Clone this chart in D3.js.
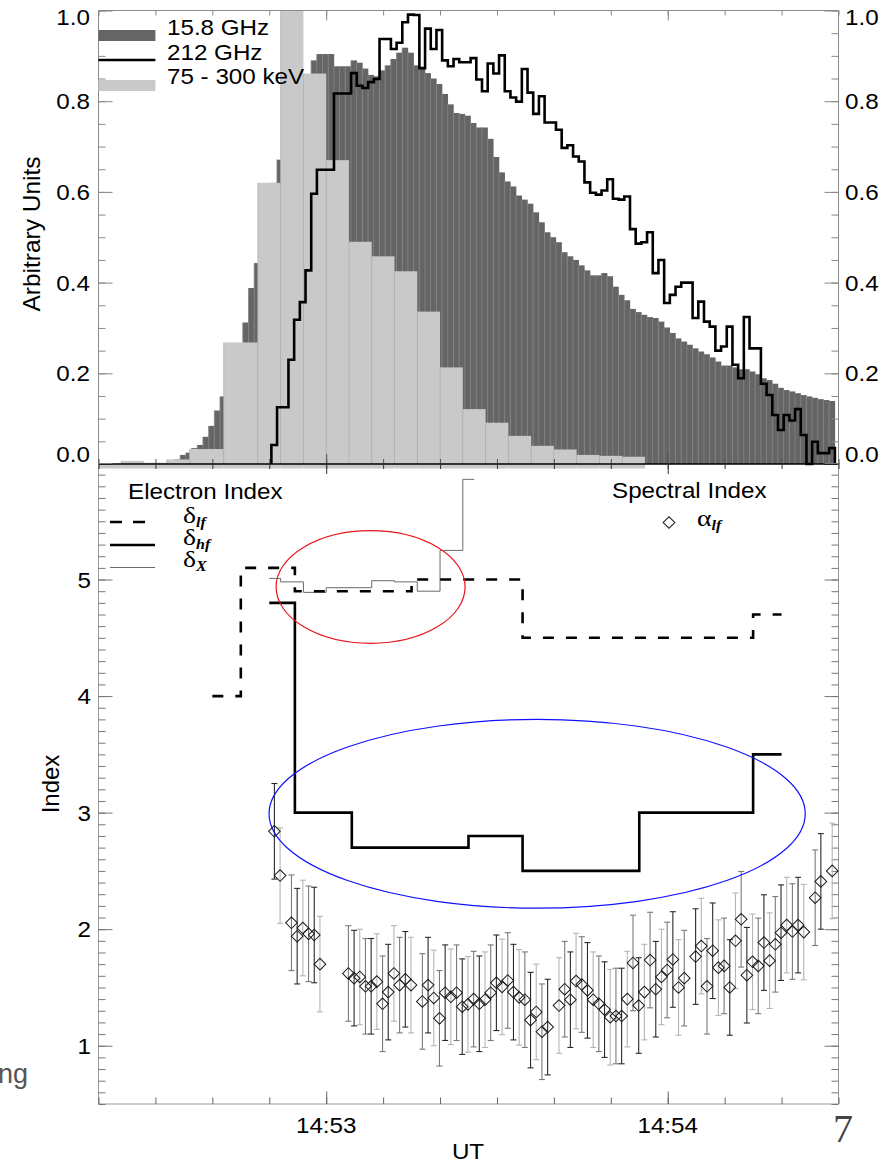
<!DOCTYPE html>
<html>
<head>
<meta charset="utf-8">
<script src="https://cdn.jsdelivr.net/npm/d3@7"></script>
<style>
  body { margin: 0; background: #fff; }
  svg { display: block; }
  text { font-family: "Liberation Sans", Arial, Helvetica, sans-serif; fill: #000; }
  .serif { font-family: "Liberation Serif", "Times New Roman", serif; }
</style>
</head>
<body>
<svg id="chart" width="895" height="1162"></svg>
<script>
// ---- data (time in seconds from 14:53:00 UT) ----

// 15.8 GHz, 1 s bins, first bin starts at darkStart
var darkStart = -27.65;
var darkValues = [0.005,0.01,0.02,0.025,0.035,0.042,0.06,0.084,0.118,0.149,
  0.18,0.21,0.25,0.312,0.388,0.443,0.50,0.56,0.62,0.671,
  0.72,0.77,0.81,0.84,0.86,0.89,0.904,0.904,0.904,0.877,
  0.877,0.877,0.89,0.885,0.872,0.858,0.855,0.868,0.879,0.893,
  0.907,0.918,0.907,0.879,0.873,0.862,0.85,0.838,0.816,0.793,
  0.774,0.772,0.768,0.752,0.742,0.742,0.717,0.677,0.643,0.623,
  0.612,0.592,0.583,0.574,0.555,0.533,0.511,0.50,0.489,0.467,
  0.458,0.450,0.438,0.427,0.416,0.416,0.421,0.414,0.391,0.373,
  0.361,0.342,0.335,0.329,0.324,0.322,0.314,0.301,0.289,0.277,
  0.270,0.263,0.255,0.248,0.242,0.235,0.226,0.217,0.217,0.213,
  0.209,0.209,0.204,0.198,0.189,0.185,0.177,0.168,0.163,0.160,
  0.156,0.152,0.149,0.146,0.143,0.141,0.139];

// 212 GHz, 1 s bins
var mmStart = -9.63;
var mmValues = [0.042,0.125,0.125,0.23,0.318,0.357,0.427,0.596,0.649,0.649,
  0.649,0.817,0.817,0.817,0.862,0.834,0.829,0.842,0.849,0.937,
  0.937,0.915,0.929,0.974,0.991,0.99,0.873,0.96,0.915,0.957,
  0.89,0.877,0.893,0.886,0.886,0.895,0.848,0.822,0.883,0.861,
  0.901,0.822,0.808,0.799,0.871,0.819,0.772,0.811,0.753,0.753,
  0.737,0.697,0.703,0.678,0.667,0.621,0.598,0.594,0.603,0.628,
  0.585,0.583,0.59,0.518,0.486,0.489,0.511,0.421,0.45,0.355,
  0.373,0.391,0.40,0.40,0.322,0.358,0.314,0.303,0.25,0.259,
  0.303,0.219,0.189,0.324,0.255,0.255,0.177,0.152,0.108,0.075,
  0.108,0.096,0.121,0.064,0,0.049,0.024,0.024,0.035];

// 75 - 300 keV, variable bins
var keVEdges = [-44,-40,-36,-32,-28,-24,-18,-12,-8,-4,0,4,8,12,16,20,24,28,32,36,40,44,48,52,56];
var keVValues = [0,0,0.007,0.003,0.01,0.033,0.268,0.62,1.2,0.861,0.67,0.49,0.458,0.425,0.336,0.213,0.121,0.091,0.062,0.04,0.032,0.02,0.018,0.016];

// electron indices
var lfEdges = [-20,-15,-5.5,15,34.5,75,80];
var lfValues = [4.0,5.1,4.9,5.0,4.5,4.7];
var hfEdges = [-10,-5.5,4.5,25,34.5,55,75,80];
var hfValues = [4.8,3.0,2.7,2.8,2.5,3.0,3.5];
var dxEdges = [-10,-8,-4,0,4,8,12,16,20,24,26];
var dxValues = [5.01,4.98,4.89,4.93,4.93,4.99,4.98,4.9,5.25,5.86];

// spectral index alpha_lf, 1 s samples
var alphaPhase = -0.1;
var alphaSec = [-9,-8,-6,-5,-4,-3,-2,-1,4,5,6,7,8,9,10,11,12,13,14,15,17,18,19,20,21,22,23,24,25,26,27,28,29,30,
  31,32,33,34,35,36,37,38,39,41,42,43,44,45,46,47,48,49,50,51,52,53,54,55,56,57,58,59,60,61,62,63,
  65,66,67,68,69,70,71,72,73,74,75,76,77,78,79,80,81,82,83,84,86,87,89];
var alphaValues = [2.84,2.46,2.055,1.94,2.01,1.96,1.95,1.70,1.62,1.58,1.59,1.51,1.51,1.55,1.36,1.46,1.62,1.52,1.57,1.52,
  1.38,1.52,1.41,1.235,1.455,1.42,1.455,1.335,1.355,1.40,1.36,1.395,1.455,1.54,
  1.505,1.56,1.46,1.415,1.395,1.22,1.29,1.12,1.16,1.345,1.485,1.395,1.555,1.525,1.475,1.395,1.36,1.31,1.245,1.255,1.255,1.40,
  1.71,1.345,1.46,1.735,1.485,1.59,1.65,1.74,1.50,1.58,
  1.765,1.855,1.51,1.815,1.67,1.685,1.50,1.90,2.085,1.605,1.72,1.685,1.885,1.73,1.87,1.97,2.035,1.98,2.035,1.975,2.27,2.41,2.50];
var alphaErr = 0.41;

// annotation ellipses [centre time, centre index, half width s, half height]
var redEllipse = [7.8, 4.936, 16.6, 0.483];
var blueEllipse = [37.06, 2.99, 47.1, 0.81];

var timeLabels = [[0, "14:53"], [60, "14:54"]];
var topLabels = [0, 0.2, 0.4, 0.6, 0.8, 1.0];
var botLabels = [1, 2, 3, 4, 5];

// ---- scales ----
var svg = d3.select("#chart");
var x = d3.scaleLinear().domain([-40, 90]).range([98.5, 838.5]);
var yTop = d3.scaleLinear().domain([0, 1]).range([464, 10.5]);
var yBot = d3.scaleLinear().domain([0.5, 6]).range([1104, 463]);

function label(g, px, py, s, anchor, size) {
  return g.append("text")
    .attr("transform", "translate(" + px + "," + py + ") scale(1.1,1)")
    .attr("text-anchor", anchor)
    .style("font-size", size + "px")
    .text(s);
}

function xTicks(g, ypos, dir, minorLen, majorLen, col) {
  var minor = d3.range(-40, 91, 10);
  g.append("g").attr("transform", "translate(0," + ypos + ")")
    .call(d3.axisBottom(x).tickValues(minor).tickSize(dir * minorLen).tickFormat(""))
    .call(function (a) { a.select(".domain").remove(); a.selectAll("line").attr("stroke", col); });
  g.append("g").attr("transform", "translate(0," + ypos + ")")
    .call(d3.axisBottom(x).tickValues([0, 60]).tickSize(dir * majorLen).tickFormat(""))
    .call(function (a) { a.select(".domain").remove(); a.selectAll("line").attr("stroke", col); });
}

function yTicks(g, scale, xpos, dir, minor, major, minorLen, majorLen, col) {
  g.append("g").attr("transform", "translate(" + xpos + ",0)")
    .call(d3.axisLeft(scale).tickValues(minor).tickSize(dir * minorLen).tickFormat(""))
    .call(function (a) { a.select(".domain").remove(); a.selectAll("line").attr("stroke", col); });
  g.append("g").attr("transform", "translate(" + xpos + ",0)")
    .call(d3.axisLeft(scale).tickValues(major).tickSize(dir * majorLen).tickFormat(""))
    .call(function (a) { a.select(".domain").remove(); a.selectAll("line").attr("stroke", col); });
}

// ================= TOP PANEL =================
svg.append("defs").append("clipPath").attr("id", "topclip")
  .append("rect").attr("x", x(-40)).attr("y", yTop(1))
  .attr("width", x(90) - x(-40)).attr("height", yTop(0) - yTop(1) + 6);

var gTop = svg.append("g");
var bars = gTop.append("g").attr("clip-path", "url(#topclip)");

var dark = darkValues.map(function (v, i) { return { t0: darkStart + i, t1: darkStart + i + 1, v: v }; });
bars.selectAll("rect.dark").data(dark).join("rect").attr("class", "dark")
  .attr("x", function (d) { return x(d.t0); })
  .attr("width", function (d) { return x(d.t1) - x(d.t0) + 0.3; })
  .attr("y", function (d) { return yTop(d.v); })
  .attr("height", function (d) { return yTop(0) - yTop(d.v); })
  .attr("fill", "#656565");
bars.selectAll("line.darksep").data(dark.slice(1)).join("line").attr("class", "darksep")
  .attr("x1", function (d) { return x(d.t0); }).attr("x2", function (d) { return x(d.t0); })
  .attr("y1", yTop(0)).attr("y2", function (d) { return yTop(d.v); })
  .attr("stroke", "#858585").attr("stroke-width", 0.8);

var light = keVValues.map(function (v, i) { return { t0: keVEdges[i], t1: keVEdges[i + 1], v: v }; });
bars.selectAll("rect.light").data(light).join("rect").attr("class", "light")
  .attr("x", function (d) { return x(d.t0); })
  .attr("width", function (d) { return x(d.t1) - x(d.t0); })
  .attr("y", function (d) { return yTop(d.v); })
  .attr("height", function (d) { return yTop(0) - yTop(d.v) + 4.5; })
  .attr("fill", "#c9c9c9");
bars.selectAll("line.lightsep").data(light.slice(1)).join("line").attr("class", "lightsep")
  .attr("x1", function (d) { return x(d.t0); }).attr("x2", function (d) { return x(d.t0); })
  .attr("y1", yTop(0)).attr("y2", function (d) { return yTop(d.v); })
  .attr("stroke", "#b3b3b3").attr("stroke-width", 0.8);

// frame and ticks
gTop.append("path")
  .attr("d", "M" + x(-40) + "," + yTop(0) + "V" + yTop(1) + "H" + x(90) + "V" + yTop(0))
  .attr("fill", "none").attr("stroke", "#8a8a8a").attr("stroke-width", 1);
xTicks(gTop, yTop(0), -1, 5, 10, "#555");
xTicks(gTop, yTop(1), 1, 5, 10, "#888");
yTicks(gTop, yTop, x(-40), -1, d3.range(0, 1.001, 0.05), topLabels, 7, 14, "#888");
yTicks(gTop, yTop, x(90), 1, d3.range(0, 1.001, 0.05), topLabels, 7, 14, "#888");

// 212 GHz line
var mmPts = [[mmStart, 0]];
mmValues.forEach(function (v, i) { mmPts.push([mmStart + i, v]); });
var mmEnd = mmStart + mmValues.length;
mmPts.push([mmEnd, mmValues[mmValues.length - 1]]);
mmPts.push([mmEnd, 0]);
gTop.append("path")
  .attr("d", d3.line().x(function (d) { return x(d[0]); }).y(function (d) { return yTop(d[1]); }).curve(d3.curveStepAfter)(mmPts))
  .attr("fill", "none").attr("stroke", "#000").attr("stroke-width", 2.6).attr("stroke-linejoin", "miter");

gTop.append("line").attr("x1", x(-40)).attr("x2", x(90)).attr("y1", yTop(0)).attr("y2", yTop(0))
  .attr("stroke", "#000").attr("stroke-width", 1.4);

// tick labels
topLabels.forEach(function (v) {
  var py = Math.max(17, Math.min(454, yTop(v))) + 8;
  label(gTop, 90, py, v.toFixed(1), "end", 22);
  label(gTop, 845, py, v.toFixed(1), "start", 22);
});
gTop.append("text").attr("transform", "translate(40,234) rotate(-90)")
  .attr("text-anchor", "middle").style("font-size", "24.5px").text("Arbitrary Units");

// legend
gTop.append("rect").attr("x", x(-40)).attr("y", 30).attr("width", x(-30) - x(-40)).attr("height", 11).attr("fill", "#656565");
gTop.append("line").attr("x1", x(-40)).attr("x2", x(-30)).attr("y1", 60).attr("y2", 60).attr("stroke", "#000").attr("stroke-width", 2.6);
gTop.append("rect").attr("x", x(-40)).attr("y", 80).attr("width", x(-30) - x(-40)).attr("height", 11).attr("fill", "#c9c9c9");
label(gTop, 167, 35, "15.8 GHz", "start", 22);
label(gTop, 167, 60, "212 GHz", "start", 22);
label(gTop, 167, 84, "75 - 300 keV", "start", 22);

// ================= BOTTOM PANEL =================
var gBot = svg.append("g");

gBot.append("path")
  .attr("d", "M" + x(-40) + "," + yBot(6) + "V" + yBot(0.5) + "H" + x(90) + "V" + yBot(6))
  .attr("fill", "none").attr("stroke", "#999").attr("stroke-width", 1);
xTicks(gBot, yBot(0.5), -1, 6.5, 12.5, "#666");
xTicks(gBot, yBot(6), 1, 6, 11, "#333");
yTicks(gBot, yBot, x(-40), -1, d3.range(0.5, 6.001, 0.1), [1, 2, 3, 4, 5, 6], 7, 14, "#777");
yTicks(gBot, yBot, x(90), 1, d3.range(0.5, 6.001, 0.1), [1, 2, 3, 4, 5, 6], 7, 14, "#777");

botLabels.forEach(function (v) { label(gBot, 91, yBot(v) + 8, String(v), "end", 22); });
timeLabels.forEach(function (d) { label(gBot, x(d[0]), 1133, d[1], "middle", 22); });
label(gBot, 468, 1158.5, "UT", "middle", 22);
gBot.append("text").attr("transform", "translate(59,784) rotate(-90)")
  .attr("text-anchor", "middle").style("font-size", "24px").text("Index");

// error bars + diamonds
var alpha = alphaSec.map(function (s, i) { return { t: s + alphaPhase, v: alphaValues[i], i: i }; });
var barShades = ["#2a2a2a", "#b5b5b5", "#7a7a7a"];
var eb = gBot.append("g").selectAll("g").data(alpha).join("g")
  .attr("stroke", function (d) { return barShades[d.i % 3]; }).attr("stroke-width", 1.1);
eb.append("line")
  .attr("x1", function (d) { return x(d.t); }).attr("x2", function (d) { return x(d.t); })
  .attr("y1", function (d) { return yBot(d.v + alphaErr); }).attr("y2", function (d) { return yBot(d.v - alphaErr); });
eb.append("line")
  .attr("x1", function (d) { return x(d.t) - 3; }).attr("x2", function (d) { return x(d.t) + 3; })
  .attr("y1", function (d) { return yBot(d.v + alphaErr); }).attr("y2", function (d) { return yBot(d.v + alphaErr); });
eb.append("line")
  .attr("x1", function (d) { return x(d.t) - 3; }).attr("x2", function (d) { return x(d.t) + 3; })
  .attr("y1", function (d) { return yBot(d.v - alphaErr); }).attr("y2", function (d) { return yBot(d.v - alphaErr); });

var diamond = d3.symbol(d3.symbolSquare, 68);
gBot.append("g").selectAll("path").data(alpha).join("path")
  .attr("d", diamond)
  .attr("transform", function (d) { return "translate(" + x(d.t) + "," + yBot(d.v) + ") rotate(45)"; })
  .attr("fill", "none").attr("stroke", "#1a1a1a").attr("stroke-width", 1);

// electron index step lines
function stepPts(edges, vals) {
  var p = vals.map(function (v, i) { return [edges[i], v]; });
  p.push([edges[edges.length - 1], vals[vals.length - 1]]);
  return p;
}
var stepLine = d3.line().x(function (d) { return x(d[0]); }).y(function (d) { return yBot(d[1]); }).curve(d3.curveStepAfter);
gBot.append("path").attr("d", stepLine(stepPts(dxEdges, dxValues)))
  .attr("fill", "none").attr("stroke", "#6a6a6a").attr("stroke-width", 1);
gBot.append("path").attr("d", stepLine(stepPts(lfEdges, lfValues)))
  .attr("fill", "none").attr("stroke", "#000").attr("stroke-width", 2.6).attr("stroke-dasharray", "11,12");
gBot.append("path").attr("d", stepLine(stepPts(hfEdges, hfValues)))
  .attr("fill", "none").attr("stroke", "#000").attr("stroke-width", 2.6);

// annotation ellipses
function ellipse(e, col) {
  gBot.append("ellipse")
    .attr("cx", x(e[0])).attr("cy", yBot(e[1]))
    .attr("rx", x(e[0] + e[2]) - x(e[0])).attr("ry", yBot(e[1] - e[3]) - yBot(e[1]))
    .attr("fill", "none").attr("stroke", col).attr("stroke-width", 1.2);
}
ellipse(redEllipse, "#e8141c");
ellipse(blueEllipse, "#1010ff");

// legends
label(gBot, 128, 499, "Electron Index", "start", 22);
label(gBot, 612, 498, "Spectral Index", "start", 22);
gBot.append("line").attr("x1", 110).attr("x2", 146).attr("y1", 522).attr("y2", 522)
  .attr("stroke", "#000").attr("stroke-width", 2.6).attr("stroke-dasharray", "12,11");
gBot.append("line").attr("x1", 110).attr("x2", 155).attr("y1", 545).attr("y2", 545)
  .attr("stroke", "#000").attr("stroke-width", 2.6);
gBot.append("line").attr("x1", 110).attr("x2", 155).attr("y1", 567.5).attr("y2", 567.5)
  .attr("stroke", "#6a6a6a").attr("stroke-width", 1);

function greek(px, py, sym, sub) {
  var t = gBot.append("text").attr("class", "serif")
    .attr("transform", "translate(" + px + "," + py + ") scale(1.15,1)");
  t.append("tspan").style("font-size", "24px").text(sym);
  t.append("tspan").attr("dy", 4).style("font-size", "14px").style("font-style", "italic").style("font-weight", "bold").text(sub);
}
greek(183, 523, "\u03b4", "lf");
greek(183, 545, "\u03b4", "hf");
greek(183, 567, "\u03b4", "X");
gBot.append("path").attr("d", diamond)
  .attr("transform", "translate(669,522.5) rotate(45)")
  .attr("fill", "none").attr("stroke", "#1a1a1a").attr("stroke-width", 1);
greek(697, 526, "\u03b1", "lf");

// stray slide text
svg.append("text").attr("x", 28).attr("y", 1083).attr("text-anchor", "end")
  .style("font-size", "27px").style("fill", "#555").text("ng");
svg.append("text").attr("class", "serif").attr("x", 833).attr("y", 1142)
  .style("font-size", "40px").style("fill", "#444").text("7");
</script>
</body>
</html>
